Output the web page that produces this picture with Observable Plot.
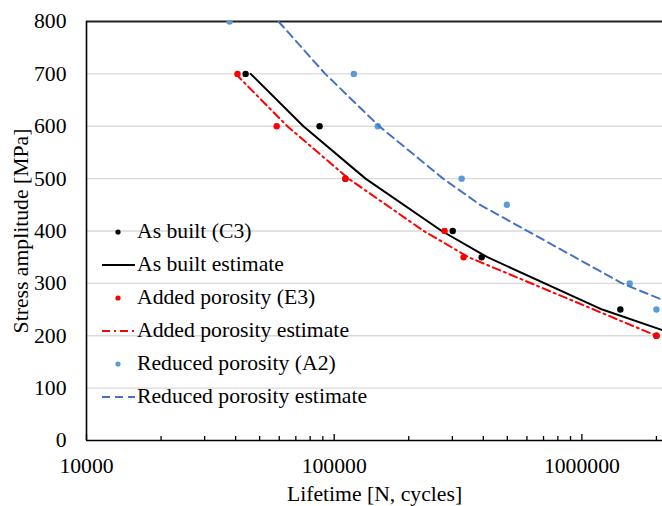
<!DOCTYPE html>
<html>
<head>
<meta charset="utf-8">
<script src="https://cdn.jsdelivr.net/npm/d3@7"></script>
<script src="https://cdn.jsdelivr.net/npm/@observablehq/plot@0.6"></script>
<style>
  html, body { margin: 0; padding: 0; background: #fff; }
  #wrap { position: relative; width: 662px; height: 506px; overflow: hidden; font-family: "Liberation Serif", "Times New Roman", serif; }
  #legend { position: absolute; left: 98px; top: 215px; font-size: 21.7px; color: #000; }
  .item { display: flex; align-items: center; height: 33px; }
  .item svg { width: 39px; height: 20px; flex: none; }
</style>
</head>
<body>
<div id="wrap"></div>
<script>
// Test data (lifetime N in cycles, stress amplitude in MPa)
const asBuiltN = [43900, 87300, 111000, 301000, 394000, 1430000, 2000000];
const asBuiltS = [700, 600, 500, 400, 350, 250, 200];
const addedN = [40700, 58600, 111000, 279000, 333000, 2000000];
const addedS = [700, 600, 500, 400, 350, 200];
const reducedN = [37800, 120000, 150000, 327000, 498000, 1560000, 2000000];
const reducedS = [800, 700, 600, 500, 450, 300, 250];

// Estimate curves
const asBuiltEstN = [46000, 75100, 133800, 271900, 415500, 1209000, 2457000];
const asBuiltEstS = [700, 600, 500, 400, 350, 250, 200];
const addedEstN = [40000, 64700, 114300, 229800, 348900, 2000000];
const addedEstS = [700, 600, 500, 400, 350, 200];
const reducedEstN = [59600, 92000, 152000, 275400, 388200, 1454000, 2634000];
const reducedEstS = [800, 700, 600, 500, 450, 300, 250];

const xTicks = [10000, 100000, 1000000];
const yTicks = [0, 100, 200, 300, 400, 500, 600, 700, 800];
const gridTicks = [100, 200, 300, 400, 500, 600, 700];

const legendItems = [
  {label: "As built (C3)", kind: "dot", color: "#000000"},
  {label: "As built estimate", kind: "line", color: "#000000", dash: null},
  {label: "Added porosity (E3)", kind: "dot", color: "#ff0000"},
  {label: "Added porosity estimate", kind: "line", color: "#ff0000", dash: "8,4,2,4"},
  {label: "Reduced porosity (A2)", kind: "dot", color: "#5b9bd5"},
  {label: "Reduced porosity estimate", kind: "line", color: "#4472c4", dash: "8,5"}
];

const zip = (N, S) => N.map((n, i) => ({n, s: S[i]}));

const minorTicks = [];
for (let e = 4; e <= 6; e++) for (let k = 2; k <= 9; k++) {
  const v = k * 10 ** e; if (v <= 2116000) minorTicks.push(v);
}

const xMax = 10 ** 6.3255;

const chart = Plot.plot({
  width: 662,
  height: 506,
  marginLeft: 86,
  marginRight: 0,
  marginTop: 21,
  marginBottom: 66,
  style: {fontFamily: "Liberation Serif, Times New Roman, serif", fontSize: "21.7px", color: "#000", background: "#fff"},
  x: {type: "log", domain: [10000, xMax]},
  y: {domain: [0, 800]},
  marks: [
    Plot.gridY(gridTicks, {stroke: "#d9d9d9", strokeOpacity: 1, strokeWidth: 1.3}),
    Plot.axisY({ticks: yTicks, tickSize: 0, tickPadding: 20, label: "Stress amplitude [MPa]", labelAnchor: "center", labelArrow: "none", labelOffset: 74, fontSize: 21.7}),
    Plot.axisX({ticks: xTicks, tickSize: 0, tickPadding: 17, tickFormat: d => String(d), label: "Lifetime [N, cycles]", labelAnchor: "center", labelArrow: "none", labelOffset: 60, fontSize: 21.7}),
    Plot.axisX({ticks: minorTicks, tickSize: -4, text: null, label: null, strokeWidth: 1.3}),
    Plot.axisX({ticks: xTicks, tickSize: -6, text: null, label: null, strokeWidth: 1.3}),
    Plot.ruleY([0], {stroke: "#000", strokeWidth: 1.6}),
    Plot.ruleY([800], {stroke: "#222", strokeWidth: 1.8}),
    Plot.ruleX([10000], {stroke: "#000", strokeWidth: 1.6}),
    Plot.dot(zip(asBuiltN, asBuiltS), {x: "n", y: "s", r: 3.2, fill: "#000000", stroke: "none"}),
    Plot.line(zip(asBuiltEstN, asBuiltEstS), {x: "n", y: "s", stroke: "#000000", strokeWidth: 2, clip: true}),
    Plot.dot(zip(addedN, addedS), {x: "n", y: "s", r: 3.2, fill: "#ff0000", stroke: "none"}),
    Plot.line(zip(addedEstN, addedEstS), {x: "n", y: "s", stroke: "#ff0000", strokeWidth: 2, strokeDasharray: "8,4,2,4", clip: true}),
    Plot.dot(zip(reducedN, reducedS), {x: "n", y: "s", r: 3.2, fill: "#5b9bd5", stroke: "none", clip: true}),
    Plot.line(zip(reducedEstN, reducedEstS), {x: "n", y: "s", stroke: "#4472c4", strokeWidth: 2, strokeDasharray: "8,5", clip: true})
  ]
});

const wrap = document.getElementById("wrap");
wrap.appendChild(chart);

const legend = document.createElement("div");
legend.id = "legend";
for (const it of legendItems) {
  const row = document.createElement("div");
  row.className = "item";
  const sym = it.kind === "dot"
    ? `<svg viewBox="0 0 39 20"><circle cx="20" cy="10" r="2.6" fill="${it.color}"/></svg>`
    : `<svg viewBox="0 0 39 20"><line x1="4" y1="10" x2="37" y2="10" stroke="${it.color}" stroke-width="2" ${it.dash ? `stroke-dasharray="${it.dash}"` : ""}/></svg>`;
  row.innerHTML = sym + `<span>${it.label}</span>`;
  legend.appendChild(row);
}
wrap.appendChild(legend);
</script>
</body>
</html>
